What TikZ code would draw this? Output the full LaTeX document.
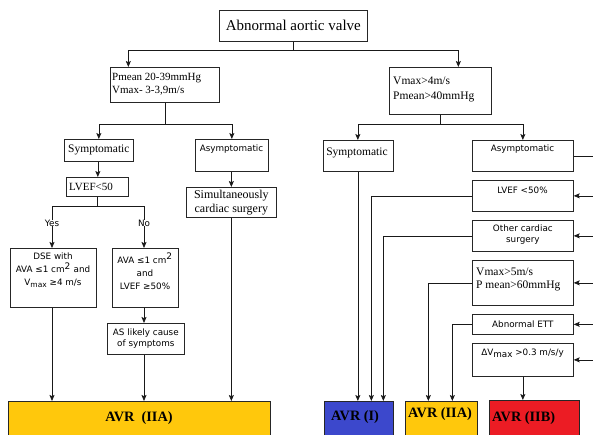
\documentclass[tikz,border=0pt]{standalone}
\usepackage{fontspec}
\setmainfont{Liberation Serif}
\newfontfamily\sansf{DejaVu Sans}
\usetikzlibrary{arrows.meta,calc}
\definecolor{avryel}{RGB}{255,200,12}
\definecolor{avrblue}{RGB}{60,72,204}
\definecolor{avrred}{RGB}{236,28,36}
\tikzset{
  box/.style={draw=black!85, line width=0.7pt, inner sep=0pt, anchor=north west},
  ser/.style={font=\fontsize{11}{13}\selectfont, inner sep=0pt},
  serl/.style={font=\fontsize{11.5}{14.5}\selectfont, inner sep=0pt, align=left},
  sanst/.style={font=\sansf\fontsize{8.8}{10.6}\selectfont, inner sep=0pt, align=center},
  avrt/.style={font=\fontsize{14.3}{16}\selectfont\bfseries, inner sep=0pt},
  conn/.style={line width=0.7pt, black!90},
  arr/.style={conn, -{Stealth[length=6pt,width=5pt,inset=1.2pt]}}
}
\begin{document}
\begin{tikzpicture}[x=1pt,y=-1pt]
\clip (0,0) rectangle (593,434);
\fill[white] (0,0) rectangle (593,434);
% boxes
\node[box, minimum width=148pt, minimum height=31pt] (top) at (219,10) {};
\node[font=\fontsize{15}{17}\selectfont, inner sep=0pt] (topt) at (top.center) {Abnormal aortic valve};
\node[box, minimum width=109pt, minimum height=35pt] (pm) at (110,67) {};
\node[ser, align=left, anchor=west] (pmt) at ([xshift=2pt,yshift=0.5pt]pm.west) {Pmean 20-39mmHg\\Vmax- 3-3,9m/s};
\node[box, minimum width=102pt, minimum height=47pt] (vm) at (389,67) {};
\node[serl, font=\fontsize{11.5}{15}\selectfont, anchor=west] (vmt) at (393,89.5) {Vmax>4m/s\\Pmean>40mmHg};
% left branch
\node[box, minimum width=69pt, minimum height=22pt] (symL) at (64,139) {};
\node[font=\fontsize{11.5}{13}\selectfont, inner sep=0pt] (symLt) at (symL.center) {Symptomatic};
\node[box, minimum width=62pt, minimum height=19pt] (lvefL) at (66,177) {};
\node[ser, anchor=west] (lvefLt) at (69,186.5) {LVEF<50};
\node[sanst] (yes) at (52,223) {Yes};
\node[sanst] (no) at (144,223) {No};
\node[box, minimum width=86pt, minimum height=59pt] (dse) at (10,248) {};
\node[sanst, font=\sansf\fontsize{8.8}{13}\selectfont, anchor=north] (dset) at (53,253) {DSE with\\AVA ≤1 cm\textsuperscript{\fontsize{9}{9}\selectfont 2} and\\V\raisebox{-2pt}{\fontsize{7.5}{8}\selectfont max} ≥4 m/s};
\node[box, minimum width=66pt, minimum height=59pt] (ava) at (112,248) {};
\node[sanst, font=\sansf\fontsize{8.8}{12.8}\selectfont, anchor=north] (avat) at (145,253) {AVA ≤1 cm\textsuperscript{\fontsize{9}{9}\selectfont 2}\\and\\LVEF ≥50\%};
\node[box, minimum width=77pt, minimum height=31pt] (as) at (107,323) {};
\node[sanst] (ast) at (as.center) {AS likely cause\\of symptoms};
\node[box, minimum width=73pt, minimum height=32pt] (asymL) at (195,139) {};
\node[sanst] (asymLt) at (231.5,149) {Asymptomatic};
\node[box, minimum width=90pt, minimum height=30pt] (sim) at (186,187) {};
\node[font=\fontsize{12}{14}\selectfont, inner sep=0pt, align=center] (simt) at (sim.center) {Simultaneously\\cardiac surgery};
\node[box, fill=avryel, minimum width=262pt, minimum height=45pt] (avrL) at (8,401) {};
\node[avrt] (avrLt) at (139,418) {AVR\ \ (IIA)};
% right branch
\node[box, minimum width=70pt, minimum height=31pt] (symR) at (323,140) {};
\node[font=\fontsize{11.5}{13}\selectfont, inner sep=0pt] (symRt) at (357,153) {Symptomatic};
\node[box, minimum width=101pt, minimum height=31pt] (asymR) at (472,140) {};
\node[sanst] (asymRt) at (522.5,149) {Asymptomatic};
\node[box, minimum width=101pt, minimum height=31pt] (lvefR) at (472,180) {};
\node[sanst] (lvefRt) at (522.5,190) {LVEF <50\%};
\node[box, minimum width=101pt, minimum height=31pt] (oth) at (472,220) {};
\node[sanst, font=\sansf\fontsize{8.8}{11}\selectfont] (otht) at ([yshift=0.8pt]oth.center) {Other cardiac\\surgery};
\node[box, minimum width=101pt, minimum height=45pt] (v5) at (472,260) {};
\node[serl, font=\fontsize{11.5}{13.5}\selectfont, anchor=west] (v5t) at (476,279.5) {Vmax>5m/s\\P mean>60mmHg};
\node[box, minimum width=101pt, minimum height=20pt] (ett) at (472,314) {};
\node[sanst] (ettt) at (ett.center) {Abnormal ETT};
\node[box, minimum width=101pt, minimum height=33pt] (dv) at (472,343) {};
\node[sanst] (dvt) at (522.5,353) {ΔV\raisebox{-2pt}{\fontsize{8.8}{9}\selectfont max} >0.3 m/s/y};
\node[box, fill=avrblue, minimum width=69pt, minimum height=45pt] (avrI) at (324,401) {};
\node[avrt, anchor=west] (avrIt) at (331,417) {AVR (I)};
\node[box, fill=avryel, minimum width=72pt, minimum height=45pt] (avrIIA) at (405,401) {};
\node[avrt, anchor=west] (avrIIAt) at (408,414) {AVR (IIA)};
\node[box, fill=avrred, minimum width=90pt, minimum height=45pt] (avrIIB) at (489,400) {};
\node[avrt, anchor=west] (avrIIBt) at (492,418) {AVR (IIB)};
\coordinate (rail) at (597,155.5);
% connectors top
\draw[arr] (top.south) -- ++(0,9) -| ([xshift=-36.5pt]pm.north);
\draw[arr] (top.south) -- ++(0,9) -| ([xshift=18pt]vm.north);
\draw[arr] (pm.south) -- ++(0,22) -| (symL.north);
\draw[arr] (pm.south) -- ++(0,22) -| (asymL.north);
\draw[arr] (vm.south) -- ++(0,10) -| ([xshift=-0.5pt]symR.north);
\draw[arr] (vm.south) -- ++(0,10) -| (asymR.north);
% left connectors
\draw[arr] ([xshift=-1pt]symL.south) -- ([xshift=-1pt]symL.south |- lvefL.north);
\draw[conn] (lvefL.south) -- ++(0,10) -| (yes.north);
\draw[conn] (lvefL.south) -- ++(0,10) -| (no.north);
\draw[arr] (yes.south) -- (yes.south |- dse.north);
\draw[arr] (no.south) -- (no.south |- ava.north);
\draw[arr] (no.south |- ava.south) -- (no.south |- as.north);
\draw[arr] (dse.south -| yes.south) -- (yes.south |- avrL.north);
\draw[arr] (as.south -| no.south) -- (no.south |- avrL.north);
\draw[arr] ([xshift=-0.5pt]asymL.south) -- ([xshift=-0.5pt]asymL.south |- sim.north);
\draw[arr] ([xshift=-0.5pt]asymL.south |- sim.south) -- ([xshift=-0.5pt]asymL.south |- avrL.north);
% right connectors
\draw[arr] ([xshift=-0.5pt]symR.south) -- ([xshift=-0.5pt]symR.south |- avrI.north);
\draw[arr] (lvefR.west) -| ([xshift=12.5pt]avrI.north);
\draw[arr] (oth.west) -| ([xshift=24.5pt]avrI.north);
\draw[arr] (v5.west) -| ([xshift=-13pt]avrIIA.north);
\draw[arr] (ett.west) -| ([xshift=11pt]avrIIA.north);
\draw[arr] (dv.south) -- (dv.south |- avrIIB.north);
\draw[conn] (asymR.east) -- (asymR.east -| rail);
\draw[conn] (asymR.east -| rail) -- (rail |- dv.east);
\draw[arr] (rail |- lvefR.east) -- (lvefR.east);
\draw[arr] (rail |- oth.east) -- (oth.east);
\draw[arr] (rail |- v5.east) -- (v5.east);
\draw[arr] (rail |- ett.east) -- (ett.east);
\draw[arr] (rail |- dv.east) -- (dv.east);
\end{tikzpicture}
\end{document}
